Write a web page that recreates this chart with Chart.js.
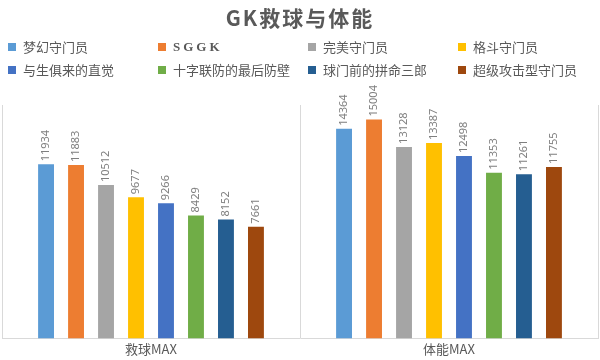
<!DOCTYPE html>
<html>
<head>
<meta charset="utf-8">
<script src="https://cdn.jsdelivr.net/npm/chart.js@4"></script>
<style>
  body { margin: 0; background: #fff; font-family: "Noto Sans CJK SC", "Noto Sans", sans-serif; }
  #wrap { position: relative; width: 600px; height: 360px; }
  #title { position: absolute; top: 3px; left: 0; width: 600px; text-align: center;
           font-size: 21px; font-weight: bold; color: #595959; line-height: 28px; letter-spacing: 2px; }
  #legend { position: absolute; top: 37px; left: 8px; width: 600px; display: grid;
            grid-template-columns: 150px 150px 150px 150px; row-gap: 4px; }
  .item { display: flex; align-items: center; font-size: 13px; color: #595959; height: 19px; }
  .box { width: 8px; height: 8px; margin-right: 7px; }
</style>
</head>
<body>
<div id="wrap">
  <canvas id="mycanvas" width="600" height="360"></canvas>
  <div id="title">GK救球与体能</div>
  <div id="legend"></div>
</div>
<script>
var categories = ['救球MAX', '体能MAX'];
var keepers = ['梦幻守门员', 'SGGK', '完美守门员', '格斗守门员',
               '与生俱来的直觉', '十字联防的最后防壁', '球门前的拼命三郎', '超级攻击型守门员'];
var saveMax = [11934, 11883, 10512, 9677, 9266, 8429, 8152, 7661];
var staminaMax = [14364, 15004, 13128, 13387, 12498, 11353, 11261, 11755];
var colors = ['#5B9BD5', '#ED7D31', '#A5A5A5', '#FFC000', '#4472C4', '#70AD47', '#255E91', '#9E480E'];

var datasets = [];
for (var i in keepers) {
  datasets.push({
    label: keepers[i],
    backgroundColor: colors[i],
    data: [saveMax[i], staminaMax[i]]
  });
}

// legend as html
var legend = document.getElementById('legend');
for (var i in keepers) {
  var item = document.createElement('div');
  item.className = 'item';
  var box = document.createElement('span');
  box.className = 'box';
  box.style.background = colors[i];
  var txt = document.createElement('span');
  txt.textContent = keepers[i];
  if (keepers[i] == 'SGGK') { txt.style.letterSpacing = '3px'; txt.style.fontWeight = 'bold'; txt.style.fontFamily = '"Liberation Serif", serif'; }
  item.appendChild(box);
  item.appendChild(txt);
  legend.appendChild(item);
}

// value labels, rotated like the excel ones
var valueLabels = {
  id: 'valueLabels',
  afterDatasetsDraw: function(chart) {
    var ctx = chart.ctx;
    ctx.save();
    ctx.font = '11px "Noto Sans", sans-serif';
    ctx.fillStyle = '#7f7f7f';
    ctx.textAlign = 'left';
    ctx.textBaseline = 'middle';
    chart.data.datasets.forEach(function(ds, di) {
      var meta = chart.getDatasetMeta(di);
      meta.data.forEach(function(bar, j) {
        ctx.save();
        ctx.translate(bar.x, bar.y - 3);
        ctx.rotate(-Math.PI / 2);
        ctx.fillText(String(ds.data[j]), 0, 0);
        ctx.restore();
      });
    });
    ctx.restore();
  }
};

var ctx = document.getElementById('mycanvas');
var barGraph = new Chart(ctx, {
  type: 'bar',
  data: { labels: categories, datasets: datasets },
  plugins: [valueLabels],
  options: {
    responsive: false,
    animation: false,
    layout: { padding: { top: 105, left: 2, right: 2, bottom: 0 } },
    plugins: { legend: { display: false }, title: { display: false }, tooltip: { enabled: false } },
    datasets: { bar: { categoryPercentage: 0.805, barPercentage: 0.53 } },
    scales: {
      x: {
        grid: { display: true, color: '#d9d9d9', drawTicks: false, offset: true },
        border: { color: '#d9d9d9' },
        ticks: { color: '#595959', font: { size: 13, family: '"Noto Sans CJK SC", sans-serif' }, padding: 3 }
      },
      y: { display: false, min: 0, max: 16000 }
    }
  }
});
</script>
</body>
</html>
